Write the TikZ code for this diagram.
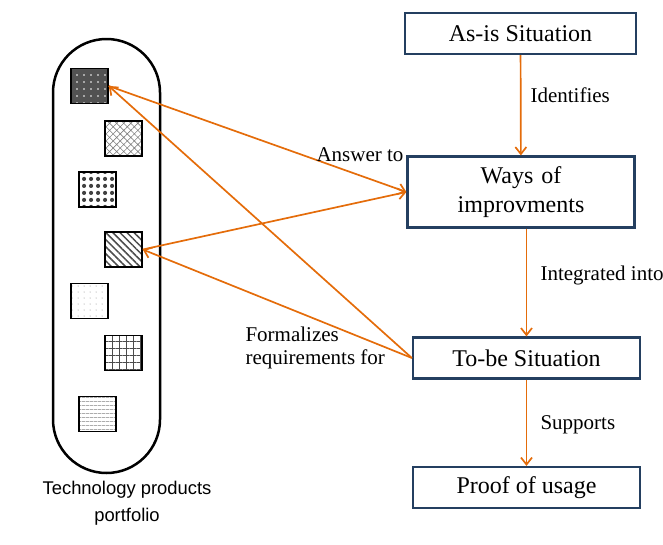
\documentclass[tikz,border=0pt]{standalone}
\usepackage{fontspec}
\setmainfont{Liberation Serif}
\newfontfamily\portfoliofont{Liberation Sans}
\usetikzlibrary{arrows.meta,patterns.meta}
\definecolor{boxblue}{RGB}{36,63,96}
\definecolor{linkorange}{RGB}{228,108,10}
\begin{document}
\begin{tikzpicture}[x=1pt,y=-1pt]
            \tikzset{
                situation/.style={draw=boxblue,line width=2.2pt,minimum width=231pt,minimum height=41pt,font=\fontsize{24}{26}\selectfont,align=center},
                link/.style={draw=linkorange,line width=1.7pt,-{Straight Barb[length=7pt,width=11pt]}},
                linklabel/.style={font=\fontsize{21}{23}\selectfont},
                product/.style={draw,line width=1.5pt,minimum width=37pt,minimum height=35pt,inner sep=0pt},}
            \useasboundingbox (0,0) rectangle (663,544);
            \node [draw,line width=2.5pt,rounded corners=53.5pt,minimum width=107pt,minimum height=434pt] (portfolio) at (106.5,256) {};
            \node [product,preaction={fill=black!68},pattern={Dots[distance=7pt,radius=0.9pt]},pattern color=white] (p1) at (89.5,86) {};
            \node [product,pattern={Hatch[angle=45,distance=5pt,line width=0.6pt]},pattern color=gray] (p2) at (123.5,138.5) {};
            \node [product,pattern={Dots[distance=6.5pt,radius=2.2pt]},pattern color=black!75] (p3) at (97.5,189.5) {};
            \node [product,pattern={Lines[angle=-45,distance=5pt,line width=1.5pt]},pattern color=black!70] (p4) at (123.5,249.5) {};
            \node [product,pattern={Dots[distance=6pt,radius=0.5pt]},pattern color=gray] (p5) at (89.5,301) {};
            \node [product,pattern={Hatch[angle=0,distance=7pt,line width=0.8pt]},pattern color=black!70] (p6) at (123.5,353) {};
            \node [product,pattern={Lines[angle=0,distance=4pt,line width=0.6pt]},pattern color=gray] (p7) at (97.5,414) {};
            \node [font=\portfoliofont\fontsize{18.4}{27}\selectfont,align=center] (portfoliotext) at (127,503) {Technology products\\portfolio};
            % situations
            \node [situation] (asis) at (520.5,33.5) {As-is Situation};
            \node [situation,minimum width=227pt,minimum height=71pt,text width=150pt,font=\fontsize{24}{29}\selectfont] (ways) at (521,192) {Ways of\\improvments};
            \node [situation,minimum width=227pt] (tobe) at (526.5,358) {To-be Situation};
            \node [situation,minimum width=227pt] (proof) at (526.5,487.5) {Proof of usage};
            \draw [link] (asis) -- (ways);
            \draw [link] (ways.south -| tobe.north) -- (tobe);
            \draw [link] (tobe) -- (proof);
            \draw [link,{Straight Barb[length=7pt,width=11pt]}-] (ways.west) -- (p1.east);
            \draw [link,{Straight Barb[length=7pt,width=11pt]}-] (ways.west) -- (p4.east);
            \draw [link] (tobe.west) -- (p1.east);
            \draw [link] (tobe.west) -- (p4.east);
            \node [linklabel,anchor=west] (identifies) at (527,95) {Identifies};
            \node [linklabel,anchor=west] (integrated) at (537,275) {Integrated into};
            \node [linklabel,anchor=west] (supports) at (537,425) {Supports};
            \node [linklabel] (answer) at (360,155) {Answer to};
            \node [linklabel,align=left,anchor=west] (formalizes) at (242,348) {Formalizes\\requirements for};
        \end{tikzpicture}
\end{document}
